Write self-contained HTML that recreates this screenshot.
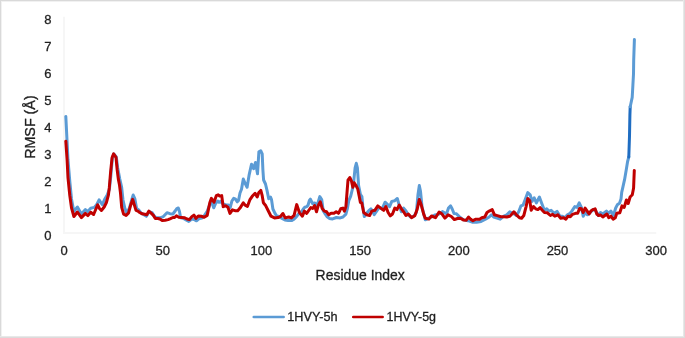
<!DOCTYPE html>
<html><head><meta charset="utf-8"><style>
html,body{margin:0;padding:0;background:#fff;}
body{width:685px;height:338px;overflow:hidden;position:relative;}
svg{position:absolute;left:0;top:0;will-change:transform;}
text{font-family:"Liberation Sans",sans-serif;font-size:13px;fill:#1f1f1f;stroke:#1f1f1f;stroke-width:0.3px;}
</style></head><body>
<svg width="685" height="338" viewBox="0 0 685 338">
<rect x="0" y="0" width="685" height="338" fill="#fff"/>
<rect x="0.5" y="0.5" width="683" height="336" fill="none" stroke="#d9d9d9" stroke-width="1"/>
<line x1="683.5" y1="0" x2="683.5" y2="338" stroke="#e8e8e8" stroke-width="1"/>
<line x1="0" y1="336.5" x2="685" y2="336.5" stroke="#e8e8e8" stroke-width="1"/>
<line x1="1.5" y1="1" x2="1.5" y2="336" stroke="#f1f1f1" stroke-width="1"/>
<line x1="1" y1="1.5" x2="683" y2="1.5" stroke="#f1f1f1" stroke-width="1"/>
<line x1="684.5" y1="0" x2="684.5" y2="338" stroke="#dcdcdc" stroke-width="1"/>
<line x1="0" y1="337.5" x2="685" y2="337.5" stroke="#dcdcdc" stroke-width="1"/>
<line x1="64" y1="16.8" x2="64" y2="233" stroke="#f6f6f6" stroke-width="2"/>
<line x1="63" y1="233" x2="656.2" y2="233" stroke="#f6f6f6" stroke-width="2"/>
<text x="51.5" y="240.2" text-anchor="end">0</text><text x="51.5" y="213.2" text-anchor="end">1</text><text x="51.5" y="186.2" text-anchor="end">2</text><text x="51.5" y="159.2" text-anchor="end">3</text><text x="51.5" y="132.2" text-anchor="end">4</text><text x="51.5" y="105.2" text-anchor="end">5</text><text x="51.5" y="78.2" text-anchor="end">6</text><text x="51.5" y="51.2" text-anchor="end">7</text><text x="51.5" y="24.2" text-anchor="end">8</text>
<text x="64.0" y="255.2" text-anchor="middle">0</text><text x="162.7" y="255.2" text-anchor="middle">50</text><text x="261.4" y="255.2" text-anchor="middle">100</text><text x="360.1" y="255.2" text-anchor="middle">150</text><text x="458.8" y="255.2" text-anchor="middle">200</text><text x="557.5" y="255.2" text-anchor="middle">250</text><text x="656.2" y="255.2" text-anchor="middle">300</text>
<text x="360.2" y="280.4" text-anchor="middle" style="font-size:14.2px" textLength="89.2" lengthAdjust="spacingAndGlyphs">Residue Index</text>
<text transform="translate(35.4,127.1) rotate(-90)" x="0" y="0" text-anchor="middle" style="font-size:14.3px">RMSF (Å)</text>
<g fill="none" stroke-linejoin="round" stroke-linecap="round" stroke-width="3">
<polyline points="65.8,116.4 68,160 69.8,181.3 71.5,199 73.8,211.5 77.4,207 81.4,214 85.4,209.6 87.8,211.5 90.7,208.3 94.3,207.4 96.8,204.5 99.1,199.9 102.3,204.8 104.5,199.5 107.2,195.1 109.4,189.2 110.8,176 112.3,158.5 113.8,154 116.3,157 117.7,168 119.8,179 121.6,187 123,200 124.8,208 126.7,212.9 129.2,208.6 131.7,199.9 133.2,195 134.8,198.6 136.6,208.6 138.5,209.8 141,212.9 143.5,214.5 146.4,216.3 149.1,211.8 152.2,212.7 154.6,216.6 156.3,217.8 159.9,217.8 163.4,216.6 167,212.7 169.9,213.7 172.9,214 175.5,210.5 176.8,208.6 178.3,208 179.5,211.5 180.6,217.8 183.5,218.4 186.5,220.2 188.8,221.4 191.8,219 194,219.5 196.5,220.8 199.5,218.4 202,218 204.8,214.9 207.2,211.3 209,206.6 211.4,201 213.7,207.8 215.5,203.6 217.7,201 219.1,202.3 220.4,201.4 223,204 226.2,205 228.4,205 230.2,207.6 231.9,201 233.7,198.3 235.5,199.2 237.3,201.8 238.5,200.5 240,193 241.5,189.2 243.3,179 245.2,183.5 247.1,187.2 249.2,174.6 251.5,164.2 253.6,168.7 255.5,162.5 257.5,173.8 258.9,151.7 260.7,150.7 262.2,153.9 262.9,170 263.6,180 265.5,184 267,190.4 268.7,198.7 270.5,197 271.5,199.5 272.9,209 275,213.4 276.6,215.9 279.1,216.5 282,218.5 284.9,220 288.2,220.6 291.5,220.6 294,219.2 296.5,216.7 298.6,213.8 301.1,212.6 303.1,209.3 304.8,207.2 306.9,206.6 308.1,205 309.4,200.5 310.4,199.2 312.6,203.7 314.8,202.9 317,205.9 319.8,196.6 321.7,199.5 323.2,210.8 325,213.7 326.9,216.5 329.3,218.4 332.6,218.9 336.4,217.5 340.2,217.9 343,217 345.9,214.1 347.3,208.9 348.8,200.7 350.7,196.2 353.3,185.5 355.1,167.8 356.3,163.3 357.4,167.8 358.6,185.5 360.4,194.4 361.9,196.6 362.8,206 364.3,216.5 366.5,213.5 369,210.4 370.9,208.9 372.5,211 374.2,214.6 376.1,211.8 379.2,207.4 382,209 385.1,202.2 387.4,204.4 389.6,206.6 391.8,201.4 394.8,200.7 397.3,198.5 399.2,205.1 401.4,211.8 403.6,208.1 406,211 408,214.5 410.7,217.3 413.5,216.5 416.4,212.4 418,194.5 419.3,185.6 420.5,191.3 422.1,207.5 425.3,219.8 428.6,218.2 432,216.6 435.1,214.9 439,214.1 442.4,211.6 444.8,213 446.6,213.7 448.5,208 450.6,205.8 452.2,209 454,213.5 456.4,213.7 459,216.4 463.3,219.6 467.8,220.7 472.2,222.2 476.6,222.2 481.1,221.4 485.5,219.2 489.2,217 491.4,214.8 493.6,217 497,218 500.2,219.2 503.9,216.2 506.8,214.8 509.8,211.8 513,213.3 516.4,215.5 518.7,211.8 520.9,205.9 523.1,205.1 525.3,199.2 527.8,192.6 530.2,194.8 532,201.4 534.2,197.8 536.4,202.9 539.4,197 541.6,202.9 543.8,208.8 544.4,210.3 546.7,208.8 548.9,211.1 551.1,210.3 554.1,213.3 557,211.4 560,216.2 562.5,216.2 565.1,217.7 567.4,214.8 569.6,213.7 571.8,211.1 574.8,206.6 577,207.4 579.2,202.9 581.4,207.4 583.2,216.2 585.1,212.5 587.5,214.8 590.2,212.5 593.1,209.6 595.4,210.3 598.3,215.5 600.5,212.5 602.8,214 606.4,211.1 608.5,213.3 610.9,211.1 613.4,215.5 615.7,208 617.3,204.8 619.5,203.3 621,199 621.7,192.4 623,186.7 624.6,179.4 626.3,169.6 627.6,161.5 628.8,157" stroke="#5b9bd5"/>
<polyline points="628.8,157 629.5,136 629.9,115 630.2,106.6" stroke="#1f6dc2"/>
<polyline points="630.2,106.8 630.8,104 632.2,97.4 632.9,85 633.5,74 633.7,60 634.4,39.5" stroke="#5b9bd5"/>
<polyline points="65.8,141.2 67.1,160 68,177.8 69.8,195.5 71.5,207.9 73.9,216.5 77.4,212 81.4,217.6 85.4,213.4 87.9,215.6 90.7,212.3 93.6,214.5 95.5,210 97.6,204.8 99.5,208.5 101.4,210.5 104.2,207 106.4,202.5 108.4,195.1 109.3,187.7 110.6,172.2 112.1,157.5 113.6,153.8 116,157.4 117.2,170 118.3,178.9 119.5,185 120.5,193 121.7,207.3 123.6,214.2 126.1,215.4 128.6,212.9 130.4,206.1 132.7,199.3 134.1,204.2 136,210.4 137.9,211.1 139.7,212.5 142.2,213.8 144.7,214.2 146.8,214.8 148.8,211.1 150.9,212.9 153.4,215.4 155.3,218.5 157.8,218.5 159.9,219 162.2,220.5 165.2,220.2 168.1,219.6 170.5,218.6 172.9,217.5 174.6,217.5 176.4,215.8 178.8,217.2 181.7,217.5 184.7,217.8 187.1,219 189.4,219.6 191.8,216.6 193.9,215.1 195.9,218.4 198.3,216 201.3,216.3 204.2,217.2 207.2,215.4 209.8,202.7 211.4,198.3 214,202.3 216.4,195.6 218.2,194.8 219.7,196.1 221.7,195.6 223.2,206.7 225.7,205.8 227.9,207.2 230,213.4 232.4,209.8 235,210.7 237.7,210.7 240,208.1 243.3,202.8 245.1,205.2 247.4,206.4 249.8,199.9 252.2,196.3 255.1,193.3 257.2,196.9 258.7,192.8 260.8,190.4 262.2,195.7 263.4,202.8 265.8,205.8 268.1,210.5 271,216.2 274.5,217.9 278.1,217.6 280.5,216.5 282.9,213.5 285.2,217.9 288.7,217 291.4,217.9 294.1,215.3 296.7,204.6 299.4,212.6 302.4,216.2 304.4,211.1 306.7,213.3 310.8,207.5 312.7,208.5 314.6,205.6 316.5,211.8 318.4,205.2 320.3,201.8 322.2,208.5 324.4,211.1 326.6,211.8 328.8,214.8 331.1,213.3 334,213.3 336.2,211.8 338.5,213.3 340.7,208.8 342.9,208.1 344.4,211.1 345.9,206.6 347.3,188.9 348,180.2 349.8,177.5 351.5,181.1 352.8,187.3 354.2,182.8 356,185.5 357.8,189.1 359.2,196.2 360.4,202.4 361.8,203 363.7,212.5 366.7,214.8 369.6,215.5 371.8,211.1 374.8,210.3 377.8,205.9 380.7,208.1 383.7,210.3 385.9,206.6 388.1,212.5 390.3,215.8 392.5,214 394.8,208.1 397,209.6 399.2,205.1 401.4,208.8 403.6,211.8 405.9,215.5 408.3,214.1 411.5,217.6 414.8,215.7 417.2,209.2 419.3,199.4 421.3,205.1 423.7,214.1 425.3,218.2 428.9,219.1 431.5,216 435.5,217.7 439.1,212 441.7,213.7 444.9,218.1 448.1,214.9 451.4,216.5 454.4,219.6 457.4,218.5 460.4,218.2 463.3,219.9 466.3,220.2 468.5,217 470.7,219.2 472.9,220.7 475.9,219.2 479.6,219.2 481.8,217.7 484.8,217 487,212.5 489.2,211.1 492.2,209.6 494.4,214.8 497.3,215.6 500.9,216.7 503.9,216.7 506.8,217 509.8,216.2 512,214 513.9,211.8 516.4,214.8 519.4,217.7 521.6,218.2 523.8,215.5 526.1,206.6 527.8,198.5 529.8,200.7 531.2,210.3 533.5,206.6 535.7,208.8 537.9,209.6 540.1,207.6 542.3,210.3 544.4,212.5 547.4,212.8 550.4,215.5 552.6,214.3 554.8,216.2 557.8,214.8 560.7,218.2 563.7,217.7 565.9,219.2 568.1,216.2 570.3,216.7 572.5,214.3 575.5,213.3 577.7,213.3 579.6,208.4 581.4,208.8 583.2,212.5 585.1,208.1 587.2,211.1 589.1,214 590.9,211.1 593.1,209.6 595.1,208.8 596.8,214 598.6,215.5 600.7,215 602.8,217 604.8,215.5 606.9,214 608.7,217.7 610.9,216.2 613.1,219.2 615.3,217.7 616.8,213.3 619.8,212.8 621.5,207.5 622,205.9 624.2,207.4 626.4,200 628.2,203.5 630.1,197 632.3,194.8 633.6,188 633.9,180 634.3,170.4" stroke="#c00000"/>
<line x1="253.8" y1="317" x2="283.6" y2="317" stroke="#5b9bd5" stroke-width="2.7"/>
<line x1="353.3" y1="317" x2="382.6" y2="317" stroke="#c00000" stroke-width="2.7"/>
</g>
<text x="287.3" y="320.9" textLength="50.3" lengthAdjust="spacingAndGlyphs">1HVY-5h</text>
<text x="386.6" y="320.9" textLength="49.4" lengthAdjust="spacingAndGlyphs">1HVY-5g</text>
</svg>
</body></html>
